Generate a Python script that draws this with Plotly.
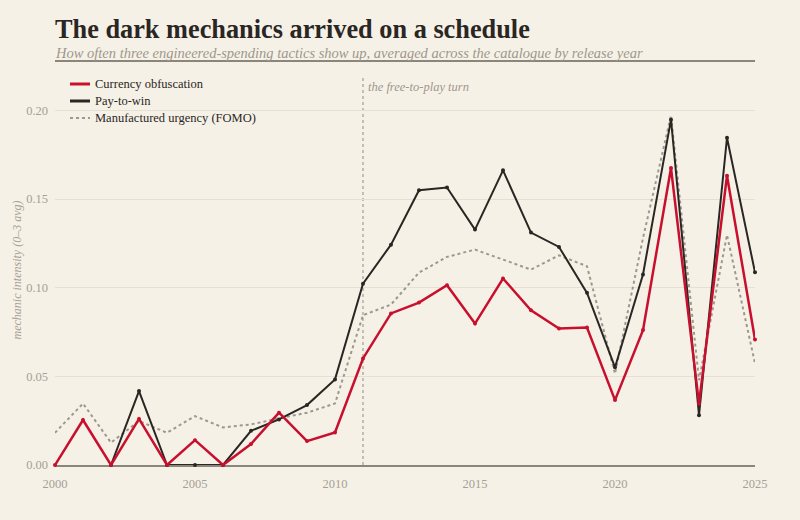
import plotly.graph_objects as go

years = list(range(2000, 2026))
currency_obfuscation = [0.0, 0.0254, 0.0, 0.026, 0.0, 0.014, 0.0, 0.0118, 0.0295, 0.0135,
                        0.0184, 0.0601, 0.0855, 0.0916, 0.1014, 0.0798, 0.1052, 0.0873, 0.0770, 0.0776,
                        0.0366, 0.0761, 0.1675, 0.0346, 0.1632, 0.0708]
pay_to_win = [None, None, 0.0, 0.0417, 0.0, 0.0, 0.0, 0.0193, 0.0257, 0.0338,
              0.0483, 0.1023, 0.1243, 0.155, 0.1565, 0.1328, 0.1662, 0.1311, 0.123, 0.0971,
              0.0551, 0.1075, 0.1948, 0.0281, 0.1846, 0.1087]
fomo = [0.0182, 0.0347, 0.0126, 0.0248, 0.0182, 0.0276, 0.0212, 0.0229, 0.0263, 0.0295,
        0.0347, 0.0845, 0.0905, 0.1085, 0.1174, 0.1215, 0.1159, 0.1102, 0.1183, 0.1121,
        0.0515, 0.128, 0.1972, 0.0478, 0.1298, 0.0573]
series_names = ["Currency obfuscation", "Pay-to-win", "Manufactured urgency (FOMO)"]
x_ticks = [2000, 2005, 2010, 2015, 2020, 2025]
y_ticks = [0.0, 0.05, 0.10, 0.15, 0.20]
turn_year = 2011
turn_label = "the free-to-play turn"

BG = "#f6f1e7"
RED = "#c8102e"
BLACK = "#2a2623"
GREY = "#9d978d"
TICK = "#a59f95"
SERIF = "Liberation Serif, DejaVu Serif, serif"

fig = go.Figure()
fig.add_trace(go.Scatter(x=years, y=fomo, mode="lines", name=series_names[2],
                         line=dict(color=GREY, width=2, dash="dot"), connectgaps=False))
fig.add_trace(go.Scatter(x=years, y=pay_to_win, mode="lines+markers", name=series_names[1],
                         line=dict(color=BLACK, width=2), marker=dict(size=4, color=BLACK)))
fig.add_trace(go.Scatter(x=years, y=currency_obfuscation, mode="lines+markers", name=series_names[0],
                         line=dict(color=RED, width=2.5), marker=dict(size=4, color=RED)))

for tr in fig.data:
    tr.cliponaxis = False

# vertical marker line
fig.add_shape(type="line", xref="x", yref="paper", x0=turn_year, x1=turn_year, y0=0, y1=1,
              line=dict(color="#b3ada2", width=1.5, dash="dot"), layer="below")
fig.add_annotation(x=turn_year, xref="x", y=(465 - 87) / 390, yref="paper", text=turn_label,
                   showarrow=False, xanchor="left", xshift=3, yanchor="middle",
                   font=dict(family=SERIF, size=12.5, color=GREY, style="italic"))

# title, subtitle, rule
fig.add_annotation(x=0, xref="paper", y=(465 - 30) / 390, yref="paper",
                   text="<b>The dark mechanics arrived on a schedule</b>", showarrow=False,
                   xanchor="left", yanchor="middle", xshift=-2,
                   font=dict(family=SERIF, size=26.3, color=BLACK))
fig.add_annotation(x=0, xref="paper", y=(465 - 53) / 390, yref="paper",
                   text="How often three engineered-spending tactics show up, averaged across the catalogue by release year",
                   showarrow=False, xanchor="left", yanchor="middle", xshift=-2,
                   font=dict(family=SERIF, size=14.5, color=GREY, style="italic"))
fig.add_shape(type="line", xref="paper", yref="paper", x0=0, x1=1, y0=(465 - 61) / 390, y1=(465 - 61) / 390,
              line=dict(color="#8a877a", width=2))

# manual legend
leg_rows = [84, 101, 118]
leg_styles = [dict(color=RED, width=3), dict(color=BLACK, width=3), dict(color=GREY, width=2, dash="dot")]
for name, row, st in zip(series_names, leg_rows, leg_styles):
    yp = (465 - row) / 390
    fig.add_shape(type="line", xref="paper", yref="paper", x0=(70 - 55) / 700, x1=(90 - 55) / 700,
                  y0=yp, y1=yp, line=st)
    fig.add_annotation(x=(93 - 55) / 700, xref="paper", y=yp, yref="paper", text=name, showarrow=False,
                       xanchor="left", yanchor="middle", font=dict(family=SERIF, size=12.5, color=BLACK))

fig.update_layout(
    width=800, height=520,
    margin=dict(l=55, r=45, t=75, b=55),
    paper_bgcolor=BG, plot_bgcolor=BG,
    showlegend=False,
    font=dict(family=SERIF, color=TICK),
    xaxis=dict(range=[2000, 2025], tickvals=x_ticks, showgrid=False, zeroline=False,
               showline=True, linecolor="#8a877a", linewidth=2, layer="below traces",
               tickfont=dict(family=SERIF, size=12.5, color=TICK), ticks="", ticklabelstandoff=6,
               fixedrange=True),
    yaxis=dict(range=[0, 0.22], tickvals=y_ticks, tickformat=".2f", showgrid=True,
               gridcolor="#e6dfd2", gridwidth=1, zeroline=False, showline=False,
               layer="below traces", ticklabelstandoff=6,
               tickfont=dict(family=SERIF, size=12.5, color=TICK), ticks="",
               title=dict(text="mechanic intensity (0–3 avg)", standoff=1,
                          font=dict(family=SERIF, size=12, color=TICK, style="italic"))),
)

fig.write_html("out.html")
